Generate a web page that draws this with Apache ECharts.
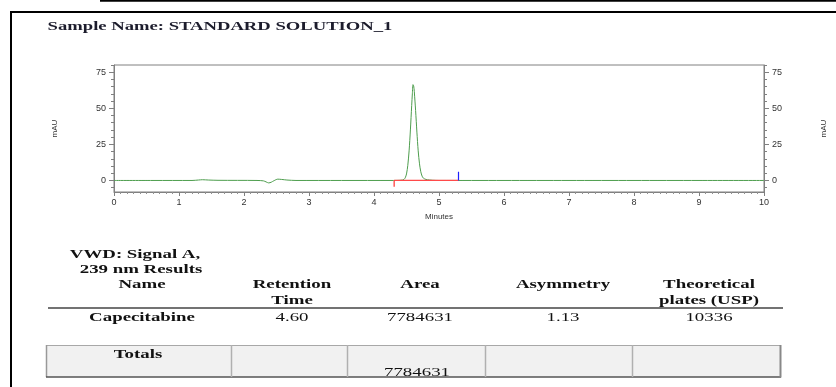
<!DOCTYPE html>
<html>
<head>
<meta charset="utf-8">
<script src="https://cdn.jsdelivr.net/npm/echarts@6/dist/echarts.min.js"></script>
<style>
html,body{margin:0;padding:0;background:#fff;}
#c{width:836px;height:387px;}
</style>
</head>
<body>
<div id="c"></div>
<script>
// ---- data ----
var traceTime   = [0, 0.6, 1.2, 1.3, 1.36, 1.45, 1.6, 2.2, 2.3, 2.34, 2.38, 2.42, 2.46, 2.52, 2.58, 2.66, 2.8, 3.5, 4.3, 4.40, 4.44, 4.46, 4.48, 4.50, 4.52, 4.54, 4.56, 4.58, 4.59, 4.60, 4.61, 4.62, 4.64, 4.66, 4.68, 4.70, 4.72, 4.74, 4.76, 4.80, 4.85, 4.90, 5.0, 6, 7, 8, 9, 10];
var traceSignal = [0, 0,   0,   0.3, 0.5,  0.3,  0.1, 0,   -0.3, -1.0, -1.7, -1.2, -0.2, 0.9, 0.7, 0.3, 0,   0,   0,   0.1,  0.3,  0.7,  1.8,  4.5,  10.5, 20.5, 35,   52,   60,   66.4, 65.6, 61.5, 48.5, 33.5, 20.5, 11.5, 6,    3,    1.6,  0.7,  0.35, 0.15, 0,   0, 0, 0, 0, 0];
var peakStart = 4.31, peakEnd = 5.30;
var startMarkDepth = -4.4, endMarkHeight = 6;
var xTicks = [0,1,2,3,4,5,6,7,8,9,10];
var yTicks = [0,25,50,75];
var yMinorTicks = [-5,5,10,15,20,30,35,40,45,55,60,65,70,80];

var titleText = 'Sample Name: STANDARD SOLUTION_1';
var tableCaption = ['VWD: Signal A,', '239 nm Results'];
var headers = [['Name'], ['Retention', 'Time'], ['Area'], ['Asymmetry'], ['Theoretical', 'plates (USP)']];
var rowValues = ['Capecitabine', '4.60', '7784631', '1.13', '10336'];
var totalsLabel = 'Totals';
var totalsArea = '7784631';

// ---- chart ----
var chart = echarts.init(document.getElementById('c'));
var pts = traceTime.map(function(t,i){return [t, traceSignal[i]];});

var serif = '"Liberation Serif","Times New Roman",serif';
var SX = 1.45;
function txt(x, y, s, bold, sx, size, color){
  return {type:'text', x:x, y:y, scaleX:sx||SX, style:{text:s, fill:color||'#111', font:(bold?'bold ':'')+(size||13)+'px '+serif, textAlign:'center', textVerticalAlign:'middle'}, z:10};
}
function ln(x1,y1,x2,y2,c,w){return {type:'line', shape:{x1:x1,y1:y1,x2:x2,y2:y2}, style:{stroke:c, lineWidth:w}, z:9};}

var colX = [142, 292, 420, 563, 709];
var g = [];
// frame
g.push(ln(100,0.8,836,0.8,'#000',1.7));
g.push(ln(10,12,836,12,'#000',2));
g.push(ln(11,11,11,387,'#000',2));
g.push(txt(220,27,titleText,true,1.38,13.5,'#1c1c2c'));
g.push(txt(135,255,tableCaption[0],true));
g.push(txt(141,270,tableCaption[1],true));
headers.forEach(function(h,i){
  h.forEach(function(s,j){ g.push(txt(colX[i], 285+j*15.5, s, true)); });
});
g.push(ln(48,308,783,308,'#444',1.5));
rowValues.forEach(function(s,i){ g.push(txt(colX[i], 318, s, i===0)); });
// totals box
g.push({type:'rect', shape:{x:46,y:345,width:735,height:32}, style:{fill:'#f1f1f1'}, z:8});
g.push(ln(46,345.5,781,345.5,'#a8a8a8',1.2));
g.push(ln(46.5,345,46.5,377,'#999',1.5));
g.push(ln(46,377,781,377,'#555',1.5));
g.push(ln(780.5,345,780.5,377.5,'#888',2));
[231.5,347.5,485.5,632.5].forEach(function(x){ g.push(ln(x,345,x,377,'#b0b0b0',1.5)); });
g.push(txt(138,355,totalsLabel,true));
g.push(txt(417,373,totalsArea,false));

var axisLabelStyle = {fontFamily:'Arial, "Liberation Sans", sans-serif', fontSize:9, color:'#333'};
var ymin = -8, ymax = 80;

function yAx(pos, isMinor){
  var a = {
    type:'value', min:ymin, max:ymax, position:pos, gridIndex:0,
    axisLine:{show:!isMinor, lineStyle:{color:'#808080', width:1}},
    splitLine:{show:false},
    axisTick:{show:true, inside:false, length:isMinor?3:5, customValues:isMinor?yMinorTicks:yTicks, lineStyle:{color:'#808080'}},
    axisLabel:Object.assign({show:!isMinor, margin:8, customValues:yTicks}, axisLabelStyle)
  };
  if(!isMinor){
    a.name='mAU'; a.nameLocation='middle'; a.nameGap=pos==='left'?55:56; a.nameRotate=90;
    a.nameTextStyle={fontFamily:'Arial, sans-serif', fontSize:8, color:'#333'};
  }
  return a;
}

chart.setOption({
  animation:false,
  grid:{left:114, right:68, top:65, bottom:195, show:true, borderColor:'#808080', borderWidth:1},
  xAxis:{
    type:'value', min:0, max:10, interval:1,
    name:'Minutes', nameLocation:'middle', nameGap:21,
    nameTextStyle:{fontFamily:'Arial, sans-serif', fontSize:8, color:'#333'},
    axisLine:{onZero:false, lineStyle:{color:'#808080'}},
    axisTick:{length:4, lineStyle:{color:'#808080'}},
    minorTick:{show:true, splitNumber:10, length:2, lineStyle:{color:'#909090'}},
    splitLine:{show:false}, minorSplitLine:{show:false},
    axisLabel:Object.assign({margin:6}, axisLabelStyle)
  },
  yAxis:[yAx('left',false), yAx('right',false), yAx('left',true), yAx('right',true)],
  series:[
    {type:'line', data:pts, showSymbol:false, smooth:0.3, lineStyle:{color:'#4d9d4d', width:1}, z:3},
    {type:'line', data:[[peakStart,0],[peakEnd,0]], showSymbol:false, lineStyle:{color:'#ff4a4a', width:1.2}, z:4},
    {type:'line', data:[[peakStart,0],[peakStart,startMarkDepth]], showSymbol:false, lineStyle:{color:'#ff3030', width:1.2}, z:4},
    {type:'line', data:[[peakEnd,0],[peakEnd,endMarkHeight]], showSymbol:false, lineStyle:{color:'#2020ff', width:1.2}, z:4}
  ],
  graphic:g
});
</script>
</body>
</html>
